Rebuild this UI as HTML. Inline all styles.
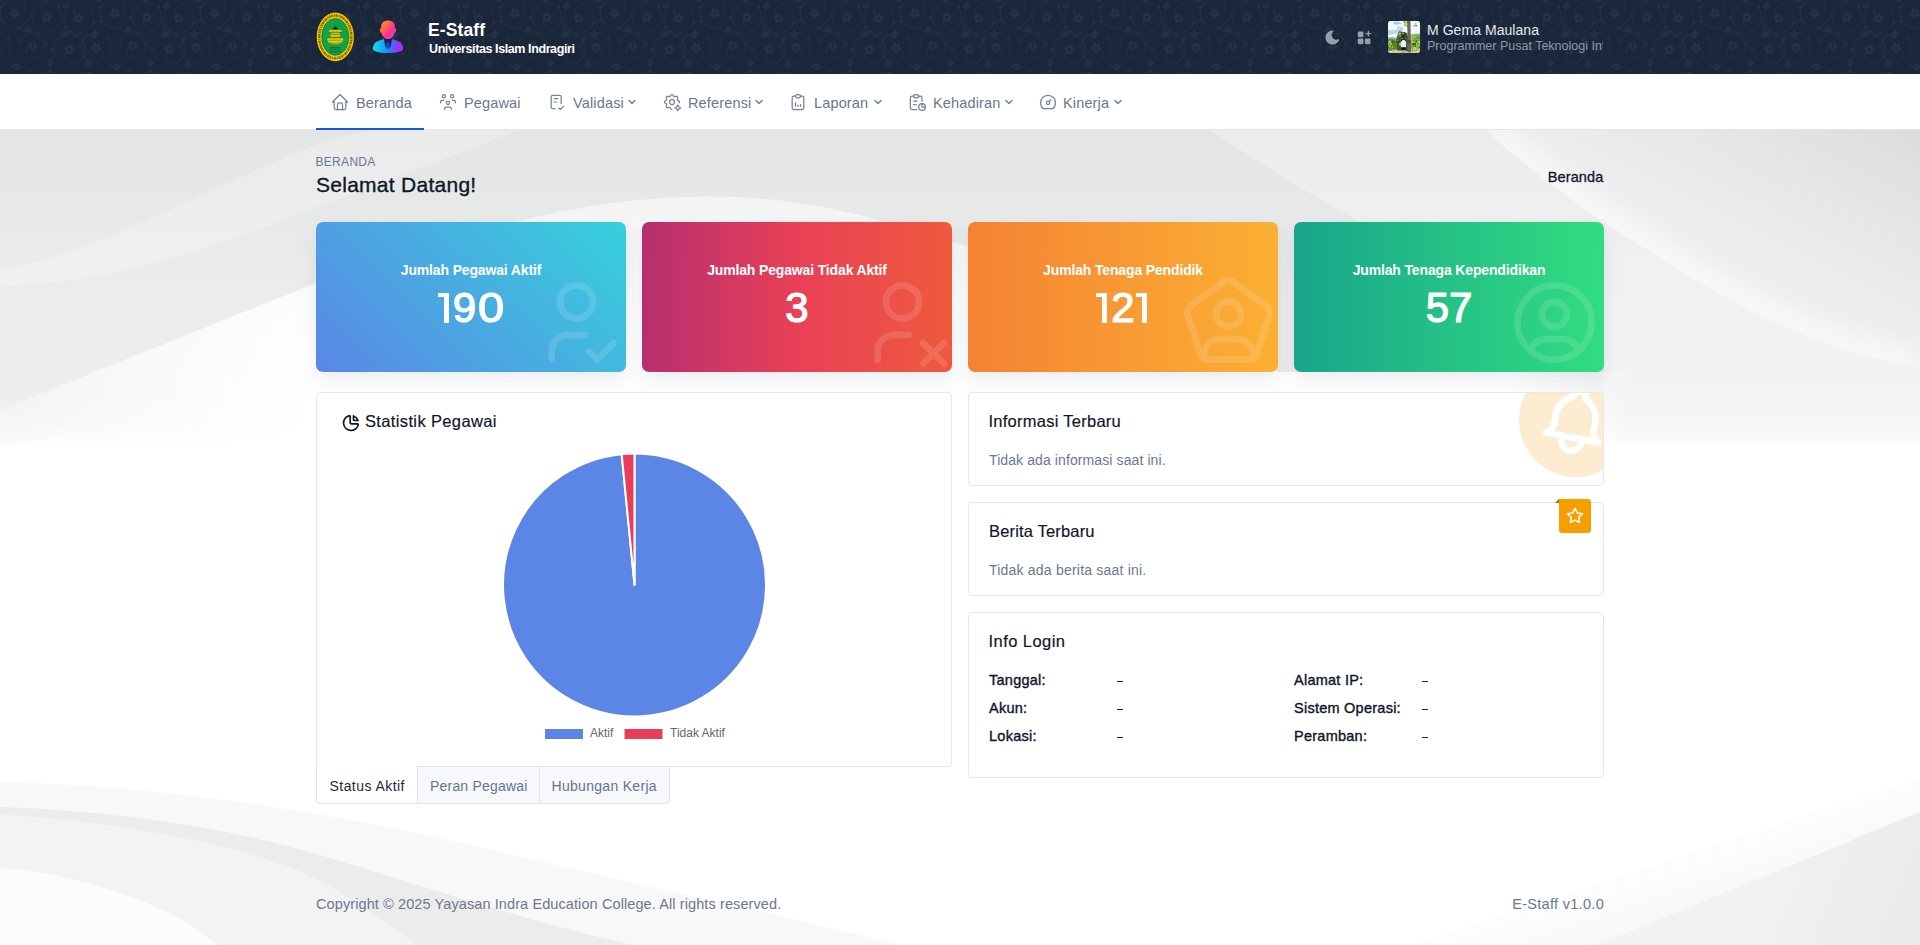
<!DOCTYPE html>
<html lang="id">
<head>
<meta charset="utf-8">
<title>E-Staff</title>
<style>
*{box-sizing:border-box;margin:0;padding:0}
html,body{width:1920px;height:945px;overflow:hidden}
body{font-family:"Liberation Sans",sans-serif;color:#0f172a;background:#fff;position:relative}
svg{display:block}
.abs{position:absolute}
/* background */
#bg{position:absolute;left:0;top:130px;width:1920px;height:815px;z-index:0}
/* header */
#hdr{position:absolute;left:0;top:0;width:1920px;height:74px;background:#1a263a;overflow:hidden;z-index:2}
#hdr .brand1{position:absolute;left:428px;top:20px;font-size:17.5px;font-weight:700;color:#fff;line-height:20px;letter-spacing:.1px}
#hdr .brand2{position:absolute;left:429px;top:41px;font-size:12.5px;font-weight:700;color:#fff;line-height:16px;letter-spacing:-.4px}
#hdr .uname{position:absolute;left:1427px;top:21px;font-size:14px;letter-spacing:.05px;color:#e6e9ee;line-height:18px;white-space:nowrap}
#hdr .urole{position:absolute;left:1427px;top:38px;width:176px;overflow:hidden;font-size:12.5px;color:#8f98a6;line-height:16px;white-space:nowrap;letter-spacing:0}
/* nav */
#nav{position:absolute;left:0;top:74px;width:1920px;height:56px;background:#fff;border-bottom:1px solid #e2e5e9;z-index:2}
.ni{position:absolute;left:0;top:0;height:56px;color:#69788f;font-size:14.5px;line-height:56px;white-space:nowrap}
.ni svg{position:absolute;top:18px;width:20px;height:20px;fill:none;stroke:#73829a;stroke-width:1.5;stroke-linecap:round;stroke-linejoin:round}
.ni .t{position:absolute;top:1px;letter-spacing:.15px}
.ni .c{position:absolute;top:25px;width:8px;height:6px}
.ni .c svg{position:static;width:8px;height:6px;stroke-width:1.5}
#navline{position:absolute;left:316px;top:54px;width:108px;height:2px;background:#0b5ed7;z-index:3}

/* page title */
.pt1{position:absolute;left:315.500px;top:154px;font-size:12px;line-height:16px;color:#6b7890;letter-spacing:.3px;z-index:1}
.pt2{position:absolute;left:316px;top:171px;font-size:21px;line-height:28px;color:#0f172a;letter-spacing:.27px;-webkit-text-stroke:.35px #0f172a;z-index:1}
.bc{position:absolute;right:316.500px;top:167px;font-size:14.5px;line-height:20px;color:#0f172a;letter-spacing:.15px;-webkit-text-stroke:.3px #0f172a;z-index:1}
/* stat cards */
.sc{position:absolute;top:222px;width:310px;height:150px;border-radius:7px;overflow:hidden;box-shadow:0 10px 22px rgba(70,85,120,.085),0 2px 5px rgba(70,85,120,.03);z-index:1;color:#fff;text-align:center}
.sc .l{position:absolute;left:0;right:0;top:38px;font-size:14px;line-height:20px;font-weight:700;letter-spacing:-.15px}
.sc .n{position:absolute;left:0;right:0;top:61px;font-size:42px;line-height:50px;font-weight:400;letter-spacing:0;-webkit-text-stroke:1.2px #fff}
.sc svg{position:absolute;left:210.500px;top:50.500px;width:99px;height:99px;fill:none;stroke:#fff;opacity:.13;stroke-width:1.6;stroke-linecap:round;stroke-linejoin:round}
.g1{position:absolute;top:71px;width:11.3px;height:30px}
.g1:before{content:"";position:absolute;left:0;top:0;width:11.3px;height:4.4px;background:#fff}
.g1:after{content:"";position:absolute;right:0;top:0;width:5.4px;height:30px;background:#fff}
.dg{position:absolute;top:61px;font-size:42px;line-height:50px;font-weight:400;-webkit-text-stroke:1.2px #fff;transform-origin:0 50%}
#c1{left:316px;background:linear-gradient(45deg,#5b86e5 0%,#36d1dc 100%)}
#c2{left:642px;background:linear-gradient(90deg,#b52f70 0%,#e94057 50%,#ef5a3c 100%)}
#c3{left:968px;background:linear-gradient(90deg,#f58233 0%,#fbb034 100%)}
#c4{left:1294px;background:linear-gradient(90deg,#19a58b 0%,#31dd80 100%)}

/* cards row 2 */
.cd{position:absolute;background:#fff;border:1px solid #e4e7ec;border-radius:4px;z-index:1}
.ct{position:absolute;font-size:16.5px;line-height:24px;color:#0f172a;letter-spacing:.17px;white-space:nowrap;-webkit-text-stroke:.18px #0f172a}
.cs{position:absolute;font-size:14px;line-height:20px;color:#6b7890;letter-spacing:.1px;white-space:nowrap}
.lg{position:absolute;font-size:12px;line-height:14px;color:#666;white-space:nowrap}
.tab{position:absolute;top:766px;height:38px;font-size:14px;line-height:38px;white-space:nowrap;z-index:1;border:1px solid #dfe3ea}
.tab span{position:absolute;top:0}
.il{position:absolute;font-size:14.5px;line-height:20px;font-weight:400;color:#0f172a;white-space:nowrap;letter-spacing:.25px;-webkit-text-stroke:.38px #0f172a}
.dash{position:absolute;width:5.5px;height:1.3px;background:#1e293b}
.ft{position:absolute;top:894px;font-size:14.5px;line-height:20px;color:#6b7890;white-space:nowrap;z-index:1}
</style>
</head>
<body>
<svg id="bg" viewBox="0 130 1920 815" preserveAspectRatio="none">
<defs>
<linearGradient id="g0" gradientUnits="userSpaceOnUse" x1="0" y1="130" x2="0" y2="450"><stop offset="0" stop-color="#e3e4e4"/><stop offset=".29" stop-color="#e8e9e9"/><stop offset=".53" stop-color="#ececed"/><stop offset=".84" stop-color="#eeeeef"/><stop offset=".93" stop-color="#f3f3f3"/><stop offset="1" stop-color="#ffffff"/></linearGradient>
<linearGradient id="gw" gradientUnits="userSpaceOnUse" x1="0" y1="0" x2="1640" y2="0"><stop offset="0" stop-color="#fff" stop-opacity=".2"/><stop offset=".193" stop-color="#fff" stop-opacity=".62"/><stop offset=".427" stop-color="#fff" stop-opacity=".53"/><stop offset=".61" stop-color="#fff" stop-opacity=".5"/><stop offset=".915" stop-color="#fff" stop-opacity=".5"/><stop offset="1" stop-color="#fff" stop-opacity="0"/></linearGradient>
<linearGradient id="gr" gradientUnits="userSpaceOnUse" x1="1920" y1="130" x2="1800" y2="367"><stop offset="0" stop-color="#dbdcdc"/><stop offset=".4" stop-color="#e6e7e7"/><stop offset=".6" stop-color="#eaebeb"/><stop offset=".8" stop-color="#eeeeee"/><stop offset="1" stop-color="#f2f2f2"/></linearGradient>
<clipPath id="cpR"><path d="M1485 130C1530 170 1570 200 1610 226C1700 285 1800 350 1920 367V130z"/></clipPath>
<filter id="bl" filterUnits="userSpaceOnUse" x="1300" y="0" width="800" height="600"><feGaussianBlur stdDeviation="13"/></filter>
<linearGradient id="grb" gradientUnits="userSpaceOnUse" x1="0" y1="228" x2="0" y2="446"><stop offset="0" stop-color="#fff" stop-opacity=".35"/><stop offset="1" stop-color="#fff" stop-opacity=".55"/></linearGradient>
<linearGradient id="gbs" gradientUnits="userSpaceOnUse" x1="1640" y1="850" x2="1670" y2="940"><stop offset="0" stop-color="#fff"/><stop offset="1" stop-color="#f6f6f6"/></linearGradient>
<linearGradient id="gbr" gradientUnits="userSpaceOnUse" x1="1760" y1="878" x2="1920" y2="945"><stop offset="0" stop-color="#f2f2f2"/><stop offset="1" stop-color="#e9e9e9"/></linearGradient>
<linearGradient id="gwv" gradientUnits="userSpaceOnUse" x1="0" y1="200" x2="0" y2="380"><stop offset="0" stop-color="#fff" stop-opacity="0"/><stop offset=".33" stop-color="#fff" stop-opacity=".45"/><stop offset=".72" stop-color="#fff" stop-opacity=".88"/><stop offset="1" stop-color="#fff" stop-opacity="1"/></linearGradient>
<linearGradient id="gmh" gradientUnits="userSpaceOnUse" x1="0" y1="0" x2="1640" y2="0"><stop offset="0" stop-color="#fff" stop-opacity=".12"/><stop offset=".22" stop-color="#fff" stop-opacity="1"/><stop offset=".915" stop-color="#fff" stop-opacity="1"/><stop offset="1" stop-color="#fff" stop-opacity="0"/></linearGradient>
<mask id="mh" maskUnits="userSpaceOnUse" x="0" y="130" width="1920" height="400"><rect x="0" y="130" width="1920" height="400" fill="url(#gmh)"/></mask>
</defs>
<rect x="0" y="130" width="1920" height="815" fill="url(#g0)"/>
<!-- left lens band -->
<path d="M0 270C110 250 230 175 330 140C345 135 360 132 370 130H520C440 160 380 185 316 207C220 245 120 283 0 286z" fill="#fff" fill-opacity=".24"/>
<!-- right: between curves lighter -->
<path d="M1210 130C1300 190 1380 235 1460 275C1520 305 1570 335 1604 350V446H1920V367C1800 350 1700 285 1610 226C1570 200 1530 170 1485 130z" fill="#fff" fill-opacity=".3"/>
<!-- right: above curve -->
<g clip-path="url(#cpR)">
<rect x="1400" y="130" width="520" height="240" fill="url(#gr)"/>
<path d="M1485 130C1530 170 1570 200 1610 226C1700 285 1800 350 1920 367" fill="none" stroke="#fff" stroke-width="40" filter="url(#bl)" opacity=".55"/>
</g>
<!-- left white wave / hill -->
<path d="M0 410L316 283C400 250 460 235 515 222C580 206 640 197 705 196.500C770 196 830 206 886 222C940 238 990 253 1029 267C1120 300 1200 340 1278 372H1640V450H0z" fill="url(#gw)"/>
<g mask="url(#mh)"><path d="M0 410L316 283C400 250 460 235 515 222C580 206 640 197 705 196.500C770 196 830 206 886 222C940 238 990 253 1029 267C1120 300 1200 340 1278 372H1640V450H0z" fill="url(#gwv)"/></g>
<!-- bottom-left bands -->
<path d="M0 782C167 786 333 812 500 852C640 885 780 915 900 945H0z" fill="#f8f8f8"/>
<path d="M0 807C100 810 220 825 320 855C420 885 540 925 633 945H417C390 925 360 905 333 888C270 850 130 822 0 815z" fill="#ececec"/>
<path d="M0 815C130 822 270 850 333 888C360 905 390 925 417 945H217C200 930 180 918 167 912C120 890 60 872 0 868z" fill="#f3f3f3"/>
<path d="M0 868C60 872 120 890 167 912C180 918 200 930 217 945H0z" fill="#fcfcfc"/>
<!-- bottom-right -->
<path d="M1920 778L1413 945H1920z" fill="url(#gbs)"/>
<path d="M1920 812L1597 945H1920z" fill="url(#gbr)"/>
</svg>
<div id="hdr">
<svg class="abs" style="left:0;top:0" width="1920" height="74">
<defs>
<pattern id="flr" width="100" height="100" patternUnits="userSpaceOnUse"><g fill="#253144" stroke="none"><circle cx="17.7" cy="14.5" r="1.9"/><circle cx="14.5" cy="16.2" r="1.9"/><circle cx="11.9" cy="13.7" r="1.9"/><circle cx="13.5" cy="10.4" r="1.9"/><circle cx="17.1" cy="10.9" r="1.9"/><path d="M17.8 27.5Q19.4 30.4 22.8 30.0Q21.2 27.0 17.8 27.5z"/><path d="M3.1 21.8Q1.0 19.2 -2.2 20.3Q-0.0 22.9 3.1 21.8z"/><path d="M2.2 6.1Q-1.1 5.3 -2.9 8.1Q0.3 8.9 2.2 6.1z"/><circle cx="17.7" cy="114.5" r="1.9"/><circle cx="14.5" cy="116.2" r="1.9"/><circle cx="11.9" cy="113.7" r="1.9"/><circle cx="13.5" cy="110.4" r="1.9"/><circle cx="17.1" cy="110.9" r="1.9"/><path d="M17.8 127.5Q19.4 130.4 22.8 130.0Q21.2 127.0 17.8 127.5z"/><path d="M3.1 121.8Q1.0 119.2 -2.2 120.3Q-0.0 122.9 3.1 121.8z"/><path d="M2.2 106.1Q-1.1 105.3 -2.9 108.1Q0.3 108.9 2.2 106.1z"/><circle cx="117.7" cy="14.5" r="1.9"/><circle cx="114.5" cy="16.2" r="1.9"/><circle cx="111.9" cy="13.7" r="1.9"/><circle cx="113.5" cy="10.4" r="1.9"/><circle cx="117.1" cy="10.9" r="1.9"/><path d="M117.8 27.5Q119.4 30.4 122.8 30.0Q121.2 27.0 117.8 27.5z"/><path d="M103.1 21.8Q101.0 19.2 97.8 20.3Q100.0 22.9 103.1 21.8z"/><path d="M102.2 6.1Q98.9 5.3 97.1 8.1Q100.3 8.9 102.2 6.1z"/><circle cx="117.7" cy="114.5" r="1.9"/><circle cx="114.5" cy="116.2" r="1.9"/><circle cx="111.9" cy="113.7" r="1.9"/><circle cx="113.5" cy="110.4" r="1.9"/><circle cx="117.1" cy="110.9" r="1.9"/><path d="M117.8 127.5Q119.4 130.4 122.8 130.0Q121.2 127.0 117.8 127.5z"/><path d="M103.1 121.8Q101.0 119.2 97.8 120.3Q100.0 122.9 103.1 121.8z"/><path d="M102.2 106.1Q98.9 105.3 97.1 108.1Q100.3 108.9 102.2 106.1z"/><circle cx="30.2" cy="30.0" r="1.4"/><circle cx="28.6" cy="32.0" r="1.4"/><circle cx="26.2" cy="31.1" r="1.4"/><circle cx="26.3" cy="28.5" r="1.4"/><circle cx="28.8" cy="27.8" r="1.4"/><circle cx="29.9" cy="47.1" r="1.9"/><circle cx="30.5" cy="43.5" r="1.9"/><circle cx="34.1" cy="42.9" r="1.9"/><circle cx="35.7" cy="46.2" r="1.9"/><circle cx="33.2" cy="48.8" r="1.9"/><path d="M22.2 39.2Q18.9 38.3 17.0 41.0Q20.2 41.9 22.2 39.2z"/><path d="M36.0 33.8Q39.3 34.5 41.0 31.6Q37.8 30.9 36.0 33.8z"/><path d="M45.0 45.5Q48.2 44.5 48.4 41.2Q45.2 42.2 45.0 45.5z"/><circle cx="52.6" cy="63.2" r="1.4"/><circle cx="50.9" cy="65.2" r="1.4"/><circle cx="48.5" cy="64.2" r="1.4"/><circle cx="48.7" cy="61.6" r="1.4"/><circle cx="51.2" cy="61.0" r="1.4"/><circle cx="14.6" cy="-22.3" r="1.9"/><circle cx="17.7" cy="-24.3" r="1.9"/><circle cx="20.5" cy="-22.0" r="1.9"/><circle cx="19.2" cy="-18.6" r="1.9"/><circle cx="15.6" cy="-18.7" r="1.9"/><path d="M13.5 -33.4Q11.6 -36.2 8.3 -35.3Q10.3 -32.6 13.5 -33.4z"/><path d="M26.8 -30.1Q29.3 -27.8 32.3 -29.4Q29.8 -31.6 26.8 -30.1z"/><path d="M29.6 -16.7Q32.9 -16.4 34.3 -19.5Q31.0 -19.7 29.6 -16.7z"/><circle cx="14.6" cy="77.7" r="1.9"/><circle cx="17.7" cy="75.7" r="1.9"/><circle cx="20.5" cy="78.0" r="1.9"/><circle cx="19.2" cy="81.4" r="1.9"/><circle cx="15.6" cy="81.3" r="1.9"/><path d="M13.5 66.6Q11.6 63.8 8.3 64.7Q10.3 67.4 13.5 66.6z"/><path d="M26.8 69.9Q29.3 72.2 32.3 70.6Q29.8 68.4 26.8 69.9z"/><path d="M29.6 83.3Q32.9 83.6 34.3 80.5Q31.0 80.3 29.6 83.3z"/><circle cx="114.6" cy="-22.3" r="1.9"/><circle cx="117.7" cy="-24.3" r="1.9"/><circle cx="120.5" cy="-22.0" r="1.9"/><circle cx="119.2" cy="-18.6" r="1.9"/><circle cx="115.6" cy="-18.7" r="1.9"/><path d="M113.5 -33.4Q111.6 -36.2 108.3 -35.3Q110.3 -32.6 113.5 -33.4z"/><path d="M126.8 -30.1Q129.3 -27.8 132.3 -29.4Q129.8 -31.6 126.8 -30.1z"/><path d="M129.6 -16.7Q132.9 -16.4 134.3 -19.5Q131.0 -19.7 129.6 -16.7z"/><circle cx="114.6" cy="77.7" r="1.9"/><circle cx="117.7" cy="75.7" r="1.9"/><circle cx="120.5" cy="78.0" r="1.9"/><circle cx="119.2" cy="81.4" r="1.9"/><circle cx="115.6" cy="81.3" r="1.9"/><path d="M113.5 66.6Q111.6 63.8 108.3 64.7Q110.3 67.4 113.5 66.6z"/><path d="M126.8 69.9Q129.3 72.2 132.3 70.6Q129.8 68.4 126.8 69.9z"/><path d="M129.6 83.3Q132.9 83.6 134.3 80.5Q131.0 80.3 129.6 83.3z"/><circle cx="33.4" cy="-6.9" r="1.4"/><circle cx="31.4" cy="-5.4" r="1.4"/><circle cx="29.3" cy="-6.9" r="1.4"/><circle cx="30.0" cy="-9.3" r="1.4"/><circle cx="32.6" cy="-9.3" r="1.4"/><circle cx="32.8" cy="94.0" r="1.4"/><circle cx="30.3" cy="94.4" r="1.4"/><circle cx="29.2" cy="92.0" r="1.4"/><circle cx="31.1" cy="90.3" r="1.4"/><circle cx="33.3" cy="91.5" r="1.4"/><circle cx="44.7" cy="19.7" r="1.9"/><circle cx="44.0" cy="16.1" r="1.9"/><circle cx="47.2" cy="14.4" r="1.9"/><circle cx="49.9" cy="16.9" r="1.9"/><circle cx="48.3" cy="20.2" r="1.9"/><path d="M32.4 15.3Q29.1 15.8 28.4 19.0Q31.7 18.6 32.4 15.3z"/><path d="M43.5 3.3Q46.7 2.4 46.9 -1.0Q43.7 -0.0 43.5 3.3z"/><path d="M58.8 9.2Q60.8 6.5 59.1 3.7Q57.0 6.3 58.8 9.2z"/><circle cx="44.7" cy="119.7" r="1.9"/><circle cx="44.0" cy="116.1" r="1.9"/><circle cx="47.2" cy="114.4" r="1.9"/><circle cx="49.9" cy="116.9" r="1.9"/><circle cx="48.3" cy="120.2" r="1.9"/><path d="M32.4 115.3Q29.1 115.8 28.4 119.0Q31.7 118.6 32.4 115.3z"/><path d="M43.5 103.3Q46.7 102.4 46.9 99.0Q43.7 100.0 43.5 103.3z"/><path d="M58.8 109.2Q60.8 106.5 59.1 103.7Q57.0 106.3 58.8 109.2z"/><circle cx="66.3" cy="35.2" r="1.4"/><circle cx="64.0" cy="36.3" r="1.4"/><circle cx="62.2" cy="34.3" r="1.4"/><circle cx="63.5" cy="32.1" r="1.4"/><circle cx="66.1" cy="32.7" r="1.4"/><circle cx="67.4" cy="52.0" r="1.9"/><circle cx="66.6" cy="48.5" r="1.9"/><circle cx="69.7" cy="46.6" r="1.9"/><circle cx="72.4" cy="48.9" r="1.9"/><circle cx="71.1" cy="52.3" r="1.9"/><path d="M53.9 47.6Q50.6 48.2 49.9 51.5Q53.2 50.9 53.9 47.6z"/><path d="M66.4 34.3Q69.7 33.4 70.0 30.1Q66.8 30.9 66.4 34.3z"/><path d="M83.1 41.9Q85.4 39.5 83.9 36.5Q81.6 38.9 83.1 41.9z"/><circle cx="89.5" cy="65.5" r="1.4"/><circle cx="87.1" cy="66.4" r="1.4"/><circle cx="85.5" cy="64.4" r="1.4"/><circle cx="86.9" cy="62.2" r="1.4"/><circle cx="89.4" cy="62.9" r="1.4"/><circle cx="49.5" cy="-9.9" r="1.9"/><circle cx="47.2" cy="-12.7" r="1.9"/><circle cx="49.1" cy="-15.8" r="1.9"/><circle cx="52.6" cy="-14.9" r="1.9"/><circle cx="52.9" cy="-11.3" r="1.9"/><path d="M36.9 -6.2Q34.5 -3.9 35.8 -0.8Q38.3 -3.1 36.9 -6.2z"/><path d="M38.0 -21.5Q39.8 -24.3 37.7 -27.0Q35.9 -24.1 38.0 -21.5z"/><path d="M52.0 -27.7Q51.5 -31.0 48.2 -31.6Q48.7 -28.3 52.0 -27.7z"/><circle cx="49.5" cy="90.1" r="1.9"/><circle cx="47.2" cy="87.3" r="1.9"/><circle cx="49.1" cy="84.2" r="1.9"/><circle cx="52.6" cy="85.1" r="1.9"/><circle cx="52.9" cy="88.7" r="1.9"/><path d="M36.9 93.8Q34.5 96.1 35.8 99.2Q38.3 96.9 36.9 93.8z"/><path d="M38.0 78.5Q39.8 75.7 37.7 73.0Q35.9 75.9 38.0 78.5z"/><path d="M52.0 72.3Q51.5 69.0 48.2 68.4Q48.7 71.7 52.0 72.3z"/><circle cx="68.4" cy="6.1" r="1.4"/><circle cx="66.6" cy="8.0" r="1.4"/><circle cx="64.3" cy="6.8" r="1.4"/><circle cx="64.7" cy="4.3" r="1.4"/><circle cx="67.3" cy="3.8" r="1.4"/><circle cx="68.2" cy="106.8" r="1.4"/><circle cx="65.9" cy="108.0" r="1.4"/><circle cx="64.1" cy="106.1" r="1.4"/><circle cx="65.3" cy="103.8" r="1.4"/><circle cx="67.8" cy="104.3" r="1.4"/><circle cx="-24.1" cy="17.0" r="1.9"/><circle cx="-20.8" cy="15.3" r="1.9"/><circle cx="-18.2" cy="17.8" r="1.9"/><circle cx="-19.8" cy="21.1" r="1.9"/><circle cx="-23.4" cy="20.6" r="1.9"/><path d="M-34.8 24.9Q-37.3 27.1 -36.0 30.3Q-33.6 28.0 -34.8 24.9z"/><path d="M-21.1 33.4Q-24.4 33.7 -25.3 36.9Q-22.0 36.6 -21.1 33.4z"/><path d="M-7.5 24.5Q-4.2 25.0 -2.7 22.0Q-6.0 21.5 -7.5 24.5z"/><circle cx="-24.1" cy="117.0" r="1.9"/><circle cx="-20.8" cy="115.3" r="1.9"/><circle cx="-18.2" cy="117.8" r="1.9"/><circle cx="-19.8" cy="121.1" r="1.9"/><circle cx="-23.4" cy="120.6" r="1.9"/><path d="M-34.8 124.9Q-37.3 127.1 -36.0 130.3Q-33.6 128.0 -34.8 124.9z"/><path d="M-21.1 133.4Q-24.4 133.7 -25.3 136.9Q-22.0 136.6 -21.1 133.4z"/><path d="M-7.5 124.5Q-4.2 125.0 -2.7 122.0Q-6.0 121.5 -7.5 124.5z"/><circle cx="75.9" cy="17.0" r="1.9"/><circle cx="79.2" cy="15.3" r="1.9"/><circle cx="81.8" cy="17.8" r="1.9"/><circle cx="80.2" cy="21.1" r="1.9"/><circle cx="76.6" cy="20.6" r="1.9"/><path d="M65.2 24.9Q62.7 27.1 64.0 30.3Q66.4 28.0 65.2 24.9z"/><path d="M78.9 33.4Q75.6 33.7 74.7 36.9Q78.0 36.6 78.9 33.4z"/><path d="M92.5 24.5Q95.8 25.0 97.3 22.0Q94.0 21.5 92.5 24.5z"/><circle cx="75.9" cy="117.0" r="1.9"/><circle cx="79.2" cy="115.3" r="1.9"/><circle cx="81.8" cy="117.8" r="1.9"/><circle cx="80.2" cy="121.1" r="1.9"/><circle cx="76.6" cy="120.6" r="1.9"/><path d="M65.2 124.9Q62.7 127.1 64.0 130.3Q66.4 128.0 65.2 124.9z"/><path d="M78.9 133.4Q75.6 133.7 74.7 136.9Q78.0 136.6 78.9 133.4z"/><path d="M92.5 124.5Q95.8 125.0 97.3 122.0Q94.0 121.5 92.5 124.5z"/><circle cx="-4.3" cy="36.6" r="1.4"/><circle cx="-6.8" cy="36.9" r="1.4"/><circle cx="-8.0" cy="34.6" r="1.4"/><circle cx="-6.1" cy="32.8" r="1.4"/><circle cx="-3.8" cy="34.0" r="1.4"/><circle cx="96.4" cy="35.1" r="1.4"/><circle cx="94.7" cy="37.1" r="1.4"/><circle cx="92.3" cy="36.2" r="1.4"/><circle cx="92.5" cy="33.6" r="1.4"/><circle cx="95.0" cy="32.9" r="1.4"/><circle cx="-1.2" cy="48.9" r="1.9"/><circle cx="-4.4" cy="50.8" r="1.9"/><circle cx="-7.1" cy="48.4" r="1.9"/><circle cx="-5.6" cy="45.0" r="1.9"/><circle cx="-2.0" cy="45.4" r="1.9"/><path d="M8.5 39.8Q10.7 37.3 9.1 34.4Q6.8 36.9 8.5 39.8z"/><path d="M-7.0 33.2Q-3.8 32.3 -3.5 29.0Q-6.7 29.9 -7.0 33.2z"/><path d="M-18.7 45.4Q-22.0 45.8 -22.7 49.1Q-19.4 48.7 -18.7 45.4z"/><circle cx="98.8" cy="48.9" r="1.9"/><circle cx="95.6" cy="50.8" r="1.9"/><circle cx="92.9" cy="48.4" r="1.9"/><circle cx="94.4" cy="45.0" r="1.9"/><circle cx="98.0" cy="45.4" r="1.9"/><path d="M108.5 39.8Q110.7 37.3 109.1 34.4Q106.8 36.9 108.5 39.8z"/><path d="M93.0 33.2Q96.2 32.3 96.5 29.0Q93.3 29.9 93.0 33.2z"/><path d="M81.3 45.4Q78.0 45.8 77.3 49.1Q80.6 48.7 81.3 45.4z"/><circle cx="18.7" cy="67.6" r="1.4"/><circle cx="16.6" cy="69.1" r="1.4"/><circle cx="14.5" cy="67.7" r="1.4"/><circle cx="15.2" cy="65.2" r="1.4"/><circle cx="17.8" cy="65.1" r="1.4"/><circle cx="-20.8" cy="-14.2" r="1.9"/><circle cx="-19.4" cy="-17.6" r="1.9"/><circle cx="-15.8" cy="-17.3" r="1.9"/><circle cx="-14.9" cy="-13.8" r="1.9"/><circle cx="-18.0" cy="-11.9" r="1.9"/><path d="M-26.9 -23.0Q-29.9 -24.4 -32.3 -22.0Q-29.3 -20.6 -26.9 -23.0z"/><path d="M-13.6 -26.3Q-10.4 -25.4 -8.4 -28.0Q-11.6 -29.0 -13.6 -26.3z"/><path d="M-5.7 -15.2Q-2.5 -16.2 -2.4 -19.5Q-5.6 -18.5 -5.7 -15.2z"/><circle cx="-20.8" cy="85.8" r="1.9"/><circle cx="-19.4" cy="82.4" r="1.9"/><circle cx="-15.8" cy="82.7" r="1.9"/><circle cx="-14.9" cy="86.2" r="1.9"/><circle cx="-18.0" cy="88.1" r="1.9"/><path d="M-26.9 77.0Q-29.9 75.6 -32.3 78.0Q-29.3 79.4 -26.9 77.0z"/><path d="M-13.6 73.7Q-10.4 74.6 -8.4 72.0Q-11.6 71.0 -13.6 73.7z"/><path d="M-5.7 84.8Q-2.5 83.8 -2.4 80.5Q-5.6 81.5 -5.7 84.8z"/><circle cx="79.2" cy="-14.2" r="1.9"/><circle cx="80.6" cy="-17.6" r="1.9"/><circle cx="84.2" cy="-17.3" r="1.9"/><circle cx="85.1" cy="-13.8" r="1.9"/><circle cx="82.0" cy="-11.9" r="1.9"/><path d="M73.1 -23.0Q70.1 -24.4 67.7 -22.0Q70.7 -20.6 73.1 -23.0z"/><path d="M86.4 -26.3Q89.6 -25.4 91.6 -28.0Q88.4 -29.0 86.4 -26.3z"/><path d="M94.3 -15.2Q97.5 -16.2 97.6 -19.5Q94.4 -18.5 94.3 -15.2z"/><circle cx="79.2" cy="85.8" r="1.9"/><circle cx="80.6" cy="82.4" r="1.9"/><circle cx="84.2" cy="82.7" r="1.9"/><circle cx="85.1" cy="86.2" r="1.9"/><circle cx="82.0" cy="88.1" r="1.9"/><path d="M73.1 77.0Q70.1 75.6 67.7 78.0Q70.7 79.4 73.1 77.0z"/><path d="M86.4 73.7Q89.6 74.6 91.6 72.0Q88.4 71.0 86.4 73.7z"/><path d="M94.3 84.8Q97.5 83.8 97.6 80.5Q94.4 81.5 94.3 84.8z"/><circle cx="0.9" cy="0.1" r="1.4"/><circle cx="-1.1" cy="1.6" r="1.4"/><circle cx="-3.3" cy="0.2" r="1.4"/><circle cx="-2.5" cy="-2.3" r="1.4"/><circle cx="0.1" cy="-2.4" r="1.4"/><circle cx="0.4" cy="100.9" r="1.4"/><circle cx="-2.1" cy="101.4" r="1.4"/><circle cx="-3.4" cy="99.2" r="1.4"/><circle cx="-1.6" cy="97.3" r="1.4"/><circle cx="0.7" cy="98.3" r="1.4"/><circle cx="100.8" cy="0.3" r="1.4"/><circle cx="98.6" cy="1.6" r="1.4"/><circle cx="96.7" cy="-0.1" r="1.4"/><circle cx="97.7" cy="-2.4" r="1.4"/><circle cx="100.2" cy="-2.2" r="1.4"/><circle cx="100.1" cy="101.2" r="1.4"/><circle cx="97.6" cy="101.2" r="1.4"/><circle cx="96.7" cy="98.8" r="1.4"/><circle cx="98.8" cy="97.2" r="1.4"/><circle cx="100.9" cy="98.7" r="1.4"/></g><g fill="none" stroke="#232f42" stroke-width="1"><path d="M28.0 19.6A14.6 14.6 0 1 1 19.3 -0.7A8.0 8.0 0 0 1 20.3 14.2"/><path d="M28.0 119.6A14.6 14.6 0 1 1 19.3 99.3A8.0 8.0 0 0 1 20.3 114.2"/><path d="M128.0 19.6A14.6 14.6 0 1 1 119.3 -0.7A8.0 8.0 0 0 1 120.3 14.2"/><path d="M128.0 119.6A14.6 14.6 0 1 1 119.3 99.3A8.0 8.0 0 0 1 120.3 114.2"/><path d="M21.7 51.3A12.4 12.4 0 1 1 33.2 58.1A6.8 6.8 0 0 1 28.1 46.4"/><path d="M5.4 -25.7A12.9 12.9 0 1 1 15.8 -8.4A7.1 7.1 0 0 1 12.7 -21.2"/><path d="M5.4 74.3A12.9 12.9 0 1 1 15.8 91.6A7.1 7.1 0 0 1 12.7 78.8"/><path d="M105.4 -25.7A12.9 12.9 0 1 1 115.8 -8.4A7.1 7.1 0 0 1 112.7 -21.2"/><path d="M105.4 74.3A12.9 12.9 0 1 1 115.8 91.6A7.1 7.1 0 0 1 112.7 78.8"/><path d="M36.7 27.9A14.6 14.6 0 1 1 56.7 28.1A8.0 8.0 0 0 1 43.3 21.6"/><path d="M36.7 127.9A14.6 14.6 0 1 1 56.7 128.1A8.0 8.0 0 0 1 43.3 121.6"/><path d="M59.3 61.6A15.7 15.7 0 1 1 78.1 62.7A8.6 8.6 0 0 1 65.0 53.5"/><path d="M46.7 1.6A14.9 14.9 0 1 1 65.0 -15.2A8.2 8.2 0 0 1 51.8 -7.5"/><path d="M46.7 101.6A14.9 14.9 0 1 1 65.0 84.8A8.2 8.2 0 0 1 51.8 92.5"/><path d="M-34.8 11.7A15.1 15.1 0 1 0 -12.4 6.2A8.3 8.3 0 0 0 -25.4 14.5"/><path d="M-34.8 111.7A15.1 15.1 0 1 0 -12.4 106.2A8.3 8.3 0 0 0 -25.4 114.5"/><path d="M65.2 11.7A15.1 15.1 0 1 0 87.6 6.2A8.3 8.3 0 0 0 74.6 14.5"/><path d="M65.2 111.7A15.1 15.1 0 1 0 87.6 106.2A8.3 8.3 0 0 0 74.6 114.5"/><path d="M9.5 53.6A14.8 14.8 0 1 0 -8.1 61.9A8.1 8.1 0 0 0 1.0 49.8"/><path d="M109.5 53.6A14.8 14.8 0 1 0 91.9 61.9A8.1 8.1 0 0 0 101.0 49.8"/><path d="M-29.6 -12.1A12.1 12.1 0 1 1 -16.1 -3.0A6.6 6.6 0 0 1 -22.2 -13.8"/><path d="M-29.6 87.9A12.1 12.1 0 1 1 -16.1 97.0A6.6 6.6 0 0 1 -22.2 86.2"/><path d="M70.4 -12.1A12.1 12.1 0 1 1 83.9 -3.0A6.6 6.6 0 0 1 77.8 -13.8"/><path d="M70.4 87.9A12.1 12.1 0 1 1 83.9 97.0A6.6 6.6 0 0 1 77.8 86.2"/></g></pattern>
</defs>
<rect width="1920" height="74" fill="url(#flr)"/>
</svg>
<!-- seal logo -->
<svg class="abs" style="left:316px;top:12px" width="38" height="50" viewBox="0 0 38 50">
<ellipse cx="19.300" cy="24.900" rx="18.600" ry="24.300" fill="#f4c700"/>
<ellipse cx="19.300" cy="24.900" rx="16.100" ry="21.400" fill="none" stroke="#5c4a00" stroke-width="2.300" stroke-dasharray="2 .800 1.200 .600 2.400 .900 1 .700 1.800 .600" opacity=".78"/>
<ellipse cx="19.300" cy="24.900" rx="13.600" ry="18.400" fill="#0da44d" stroke="#0a6a30" stroke-width=".600"/>
<path d="M10.500 17.500c4.500-5 13-5 17.500 0" fill="none" stroke="#0a7a38" stroke-width=".700" stroke-dasharray=".800 .600"/>
<path d="M19.300 14.500l3.400 3h-6.800z" fill="#0c1f10"/>
<path d="M13.400 17.700h11.800l1.200 2.300h-14.200zM14.600 20.400h9.400v1.800h-9.400zM13.600 22.600h11.400l-1 2.400h-9.400z" fill="#e8cf10" stroke="#5a5a00" stroke-width=".350"/>
<path d="M11.800 26h15l.9 1.600c-1.200 3.400-4.200 5-8.400 5s-7.200-1.600-8.400-5z" fill="#e8cf10" stroke="#5a5a00" stroke-width=".350"/>
<path d="M12.400 28.200h13.800M14.500 30.400c2.800 1.200 6.800 1.200 9.600 0" fill="none" stroke="#4a5a00" stroke-width=".500"/>
<rect x="14.600" y="35.600" width="9.600" height="4.400" fill="none" stroke="#0a5a2a" stroke-width=".700"/>
<path d="M16 37h6.800M16.600 38.600v-1M19.400 38.600v-1M22.200 38.600v-1" stroke="#0a5a2a" stroke-width=".600"/>
</svg>
<!-- person logo -->
<svg class="abs" style="left:372px;top:20px" width="32" height="34" viewBox="0 0 32 34">
<defs>
<linearGradient id="pg1" x1="0" y1="0" x2="1" y2=".9"><stop offset="0" stop-color="#ff9d1e"/><stop offset=".35" stop-color="#ff6a4a"/><stop offset=".62" stop-color="#ff2f8e"/><stop offset="1" stop-color="#c050d8"/></linearGradient>
<linearGradient id="pg2" x1="0" y1="0" x2="1" y2="0"><stop offset="0" stop-color="#08e6e6"/><stop offset=".5" stop-color="#1e88ff"/><stop offset=".8" stop-color="#8a3cf5"/><stop offset="1" stop-color="#b02cf0"/></linearGradient>
</defs>
<path d="M16 .600c4.400 0 6.900 2.600 6.900 6.400v1.300c.8 0 1.300.600 1.200 1.600l-.2 1.600c-.1.900-.7 1.400-1.400 1.300-.5 2.600-1.900 4.600-3.700 5.600-1.700.900-3.900.900-5.600 0-1.800-1-3.200-3-3.700-5.600-.7.100-1.300-.4-1.400-1.300l-.2-1.600c-.1-1 .4-1.600 1.200-1.600v-1.300c0-3.800 2.500-6.400 6.900-6.400z" fill="url(#pg1)"/>
<path d="M11.600 19l-5.600 2.100c-3.300 1.300-5 3.900-5.100 7.300 0 1.600 1.200 2.500 3.200 3.100 3.200 1 7.400 1.600 11.900 1.600s8.700-.6 11.900-1.600c2-.6 3.200-1.500 3.200-3.100-.1-3.400-1.800-6-5.100-7.300l-5.600-2.100z" fill="url(#pg2)"/>
<path d="M11.800 19h8.400l-1.600 7.600-2.600 2.400-2.600-2.400z" fill="#14205a"/>
<path d="M14.900 22.400h2.200l.5 4-1.600 2.200-1.600-2.200z" fill="#0a55d8"/>
</svg>
<div class="brand1">E-Staff</div>
<div class="brand2">Universitas Islam Indragiri</div>
<!-- moon -->
<svg class="abs" style="left:1323.500px;top:28.500px" width="17" height="17" viewBox="0 0 24 24"><path d="M12 1.992a10 10 0 1 0 9.236 13.838c.341-.82-.476-1.644-1.298-1.310a6.500 6.500 0 0 1-6.864-10.787l.077-.080c.551-.630.113-1.653-.758-1.653h-.266l-.068-.006-.060-.002z" fill="#979eab"/></svg>
<!-- apps -->
<svg class="abs" style="left:1355.500px;top:28.500px" width="17" height="17" viewBox="0 0 24 24" fill="#979eab"><rect x="2.500" y="3.500" width="8" height="8" rx="1.600"/><rect x="2.500" y="13.500" width="8" height="8" rx="1.600"/><rect x="12.500" y="13.500" width="8" height="8" rx="1.600"/><path d="M17.500 2.500a1 1 0 0 1 1 1v2h2a1 1 0 0 1 0 2h-2v2a1 1 0 0 1-2 0v-2h-2a1 1 0 0 1 0-2h2v-2a1 1 0 0 1 1-1z"/></svg>
<!-- avatar -->
<svg class="abs" style="left:1388px;top:21px;border-radius:3px" width="32" height="32" viewBox="0 0 32 32">
<defs><filter id="avb" x="-5%" y="-5%" width="110%" height="110%"><feGaussianBlur stdDeviation=".45"/></filter></defs>
<rect width="32" height="32" fill="#eef3f9"/>
<g filter="url(#avb)">
<rect x="-2" y="-2" width="36" height="20" fill="#f4f7fb"/>
<path d="M-1 9c3-1 5 1 8 0s5-3 8-2v4c-4 1-8 2-16 3z" fill="#bcd6ee"/>
<path d="M6 1c3-1 6 0 8 2-3 0-6 1-9 0z" fill="#a9cbea"/>
<path d="M10 5c2 0 4 1 5 3-2 0-4 0-6-1z" fill="#b9d5ef"/>
<path d="M-1 17c3-1.500 6-1.500 9 0v3h-9z" fill="#8fa9c4"/>
<path d="M22 13.500c3-1.200 7-1.500 11-.5v4h-11z" fill="#9bb6d0"/>
<path d="M8 20c0-5 3-9 7-9s5 2 5 6v15h-12z" fill="#3b5a29"/>
<path d="M-1 19c3-2 7-1 10 2v12h-10z" fill="#5b8234"/>
<path d="M22 16c3-2 7-3 11-2v19h-11z" fill="#7faa3a"/>
<circle cx="11.4" cy="19.2" r="1.0" fill="#4a6a2e"/><circle cx="15.3" cy="12.0" r="0.7" fill="#4a6a2e"/><circle cx="11.6" cy="14.5" r="1.6" fill="#4a6a2e"/><circle cx="14.4" cy="19.2" r="1.1" fill="#3a5a28"/><circle cx="11.3" cy="13.3" r="1.5" fill="#4a6a2e"/><circle cx="16.4" cy="21.1" r="0.8" fill="#2f4a22"/><circle cx="12.0" cy="11.5" r="1.5" fill="#4a6a2e"/><circle cx="14.9" cy="24.8" r="1.0" fill="#4a6a2e"/><circle cx="12.9" cy="23.0" r="1.1" fill="#3a5a28"/><circle cx="17.8" cy="12.5" r="0.8" fill="#3a5a28"/><circle cx="11.6" cy="21.1" r="1.4" fill="#274019"/><circle cx="13.2" cy="23.5" r="1.2" fill="#4a6a2e"/><circle cx="14.8" cy="24.6" r="1.3" fill="#2f4a22"/><circle cx="17.6" cy="25.9" r="1.3" fill="#3a5a28"/><circle cx="16.0" cy="15.9" r="1.2" fill="#2f4a22"/><circle cx="16.1" cy="14.2" r="1.4" fill="#274019"/>
<circle cx="11.8" cy="12.8" r="1.0" fill="#c9dd72"/><circle cx="9.9" cy="21.6" r="0.7" fill="#b7d45a"/><circle cx="9.2" cy="17.1" r="0.7" fill="#9fc24a"/><circle cx="9.4" cy="19.4" r="0.5" fill="#a5c850"/><circle cx="12.3" cy="22.6" r="1.1" fill="#a5c850"/><circle cx="11.4" cy="12.4" r="0.5" fill="#9fc24a"/><circle cx="15.0" cy="12.4" r="0.6" fill="#c9dd72"/><circle cx="11.9" cy="15.2" r="0.9" fill="#86ad3c"/><circle cx="12.1" cy="23.5" r="1.0" fill="#c9dd72"/><circle cx="12.8" cy="22.4" r="0.7" fill="#a5c850"/>
<circle cx="6.8" cy="20.0" r="1.6" fill="#4a6a2e"/><circle cx="2.7" cy="25.3" r="1.3" fill="#a5c850"/><circle cx="4.4" cy="21.6" r="1.0" fill="#2f4a22"/><circle cx="0.1" cy="23.2" r="1.2" fill="#9fc24a"/><circle cx="3.8" cy="24.9" r="0.8" fill="#2f4a22"/><circle cx="4.7" cy="25.8" r="1.0" fill="#a5c850"/><circle cx="7.4" cy="19.2" r="0.8" fill="#9fc24a"/><circle cx="9.6" cy="21.5" r="1.1" fill="#2f4a22"/><circle cx="1.8" cy="20.9" r="1.4" fill="#a5c850"/><circle cx="3.0" cy="22.8" r="1.4" fill="#9fc24a"/><circle cx="9.7" cy="25.8" r="0.8" fill="#4a6a2e"/><circle cx="2.2" cy="27.0" r="0.9" fill="#86ad3c"/>
<circle cx="28.8" cy="24.7" r="0.9" fill="#a5c850"/><circle cx="25.2" cy="20.0" r="1.6" fill="#c9dd72"/><circle cx="30.1" cy="29.4" r="0.9" fill="#b7d45a"/><circle cx="30.8" cy="21.8" r="1.0" fill="#9fc24a"/><circle cx="22.3" cy="29.4" r="1.1" fill="#a5c850"/><circle cx="23.8" cy="19.2" r="1.6" fill="#9fc24a"/><circle cx="30.1" cy="20.2" r="0.9" fill="#86ad3c"/><circle cx="27.2" cy="27.7" r="1.3" fill="#c9dd72"/><circle cx="24.9" cy="23.5" r="0.8" fill="#c9dd72"/><circle cx="23.6" cy="15.1" r="1.7" fill="#a5c850"/><circle cx="31.9" cy="21.5" r="1.8" fill="#b7d45a"/><circle cx="22.3" cy="21.9" r="1.6" fill="#a5c850"/><circle cx="31.6" cy="23.2" r="1.7" fill="#9fc24a"/><circle cx="30.6" cy="29.6" r="0.9" fill="#b7d45a"/><circle cx="22.5" cy="28.6" r="1.5" fill="#b7d45a"/><circle cx="31.0" cy="28.5" r="1.4" fill="#9fc24a"/><circle cx="26.8" cy="16.8" r="1.3" fill="#b7d45a"/><circle cx="28.6" cy="22.9" r="1.2" fill="#a5c850"/><circle cx="23.1" cy="16.9" r="1.8" fill="#a5c850"/><circle cx="26.8" cy="26.7" r="1.2" fill="#b7d45a"/><circle cx="23.2" cy="28.3" r="0.9" fill="#b7d45a"/><circle cx="29.9" cy="28.8" r="1.6" fill="#9fc24a"/>
<circle cx="27.4" cy="22.9" r="1.0" fill="#274019"/><circle cx="25.2" cy="23.4" r="1.1" fill="#2f4a22"/><circle cx="27.3" cy="25.3" r="0.7" fill="#2f4a22"/><circle cx="30.0" cy="16.6" r="0.7" fill="#4a6a2e"/><circle cx="31.8" cy="26.3" r="0.8" fill="#4a6a2e"/><circle cx="25.8" cy="19.8" r="0.9" fill="#4a6a2e"/><circle cx="28.3" cy="20.3" r="0.8" fill="#274019"/><circle cx="26.9" cy="17.5" r="0.7" fill="#4a6a2e"/><circle cx="30.2" cy="22.8" r="0.7" fill="#4a6a2e"/>
<circle cx="17.0" cy="3.9" r="0.8" fill="#9fb83c"/><circle cx="17.1" cy="2.2" r="0.8" fill="#b7c94a"/><circle cx="17.8" cy="1.6" r="1.2" fill="#b7c94a"/><circle cx="16.3" cy="1.2" r="0.9" fill="#7f9a30"/><circle cx="16.9" cy="4.0" r="0.7" fill="#9fb83c"/><circle cx="18.4" cy="4.7" r="0.8" fill="#7f9a30"/>
<circle cx="27.7" cy="2.3" r="0.6" fill="#8fa83c"/><circle cx="28.6" cy="4.7" r="0.8" fill="#6f8a30"/><circle cx="27.8" cy="4.3" r="0.8" fill="#6f8a30"/><circle cx="26.2" cy="5.1" r="0.8" fill="#a7b94a"/><circle cx="23.9" cy="4.9" r="0.4" fill="#8fa83c"/><circle cx="26.4" cy="4.3" r="0.6" fill="#8fa83c"/>
<path d="M-1 29.800c6-1 12-.6 18 0s10 0 16-.6v4h-34z" fill="#c9c79a"/>
<circle cx="10.9" cy="31.4" r="0.6" fill="#d9c7b0"/><circle cx="21.6" cy="31.3" r="1.2" fill="#9fc24a"/><circle cx="25.6" cy="28.1" r="1.1" fill="#b7d45a"/><circle cx="3.4" cy="31.0" r="1.2" fill="#d9c7b0"/><circle cx="17.6" cy="31.5" r="0.7" fill="#d9c7b0"/><circle cx="7.7" cy="28.7" r="0.7" fill="#e0d0c0"/><circle cx="8.1" cy="30.4" r="1.2" fill="#e0d0c0"/><circle cx="30.9" cy="29.5" r="0.7" fill="#e0d0c0"/><circle cx="27.0" cy="31.9" r="0.8" fill="#e0d0c0"/><circle cx="5.0" cy="29.6" r="1.1" fill="#b7d45a"/><circle cx="3.1" cy="31.0" r="1.1" fill="#e0d0c0"/><circle cx="18.8" cy="31.4" r="0.7" fill="#b7d45a"/>
<path d="M19 -1h3.400l.4 18 .3 14h-3.600l.2-14z" fill="#6e665c"/>
<path d="M19.300 19h3.400v3.500h-3.400z" fill="#4d4a44"/>
<ellipse cx="15.400" cy="16.300" rx="1.300" ry="1.300" fill="#2a2520"/>
<path d="M12.900 18.600c0-.9.900-1.300 2.600-1.300s2.600.4 2.600 1.300v7.800h-5.200z" fill="#e9edf6"/>
<path d="M12.900 18.600c0-.9.900-1.300 2.600-1.300s2.600.4 2.600 1.300v2.200c-.9-.5-1.300-.9-1.500-1.700h-2.200c-.2.800-.6 1.200-1.500 1.700z" fill="#1f2f5a"/>
<path d="M13.200 26.300h4.600v2.800h-4.600z" fill="#15171c"/>
<path d="M13.700 29.100h1.300v3.400h-1.300zM16 29.100h1.300v3.400h-1.300z" fill="#c79a7a"/>
</g>
</svg>
<div class="uname">M Gema Maulana</div>
<div class="urole">Programmer Pusat Teknologi Informasi</div>
</div>
<div id="nav">
<div class="ni"><svg style="left:330px" viewBox="0 0 24 24"><path d="M5 12h-2l9-9 9 9h-2"/><path d="M5 12v7a2 2 0 0 0 2 2h10a2 2 0 0 0 2-2v-7"/><path d="M9 21v-6a2 2 0 0 1 2-2h2a2 2 0 0 1 2 2v6"/></svg><span class="t" style="left:356px">Beranda</span></div>
<div class="ni"><svg style="left:438px" viewBox="0 0 24 24"><path d="M10 13a2 2 0 1 0 4 0a2 2 0 0 0-4 0"/><path d="M8 21v-1a2 2 0 0 1 2-2h4a2 2 0 0 1 2 2v1"/><path d="M15 5a2 2 0 1 0 4 0a2 2 0 0 0-4 0"/><path d="M17 10h2a2 2 0 0 1 2 2v1"/><path d="M5 5a2 2 0 1 0 4 0a2 2 0 0 0-4 0"/><path d="M3 13v-1a2 2 0 0 1 2-2h2"/></svg><span class="t" style="left:464px">Pegawai</span></div>
<div class="ni"><svg style="left:547px" viewBox="0 0 24 24"><path d="M9.615 20h-2.615a2 2 0 0 1-2-2v-12a2 2 0 0 1 2-2h8a2 2 0 0 1 2 2v8"/><path d="M14 19l2 2l4-4"/><path d="M9 8h4"/><path d="M9 12h2"/></svg><span class="t" style="left:573px">Validasi</span><span class="c" style="left:628px"><svg viewBox="0 0 8 6"><path d="M1 1.500l3 3l3-3"/></svg></span></div>
<div class="ni"><svg style="left:662px" viewBox="0 0 24 24"><path d="M11.992 21c-.728-.003-1.455-.442-1.667-1.317a1.724 1.724 0 0 0-2.573-1.066c-1.543.94-3.310-.826-2.370-2.370a1.724 1.724 0 0 0-1.065-2.572c-1.756-.426-1.756-2.924 0-3.350a1.724 1.724 0 0 0 1.066-2.573c-.940-1.543.826-3.310 2.370-2.370c1 .608 2.296.070 2.572-1.065c.426-1.756 2.924-1.756 3.350 0a1.724 1.724 0 0 0 2.573 1.066c1.543-.940 3.310.826 2.370 2.370a1.724 1.724 0 0 0 1.065 2.572c1.312.318 1.644 1.794.995 2.697"/><path d="M9 12a3 3 0 1 0 6 0a3 3 0 0 0-6 0"/><path d="M19 22.500a4.750 4.750 0 0 1 3.500-3.500a4.750 4.750 0 0 1-3.500-3.500a4.750 4.750 0 0 1-3.500 3.500a4.750 4.750 0 0 1 3.500 3.500"/></svg><span class="t" style="left:688px">Referensi</span><span class="c" style="left:755px"><svg viewBox="0 0 8 6"><path d="M1 1.500l3 3l3-3"/></svg></span></div>
<div class="ni"><svg style="left:788px" viewBox="0 0 24 24"><path d="M9 5h-2a2 2 0 0 0-2 2v12a2 2 0 0 0 2 2h10a2 2 0 0 0 2-2v-12a2 2 0 0 0-2-2h-2"/><path d="M9 5a2 2 0 0 1 2-2h2a2 2 0 0 1 2 2a2 2 0 0 1-2 2h-2a2 2 0 0 1-2-2z"/><path d="M9 17v-4"/><path d="M12 17v-1"/><path d="M15 17v-2"/></svg><span class="t" style="left:814px">Laporan</span><span class="c" style="left:874px"><svg viewBox="0 0 8 6"><path d="M1 1.500l3 3l3-3"/></svg></span></div>
<div class="ni"><svg style="left:907px" viewBox="0 0 24 24"><path d="M8 5h-2a2 2 0 0 0-2 2v12a2 2 0 0 0 2 2h5.697"/><path d="M18 14v4h4"/><path d="M18 11v-4a2 2 0 0 0-2-2h-2"/><path d="M8 5a2 2 0 0 1 2-2h2a2 2 0 0 1 2 2a2 2 0 0 1-2 2h-2a2 2 0 0 1-2-2z"/><path d="M14 18a4 4 0 1 0 8 0a4 4 0 1 0-8 0"/><path d="M8 11h4"/><path d="M8 15h3"/></svg><span class="t" style="left:933px">Kehadiran</span><span class="c" style="left:1005px"><svg viewBox="0 0 8 6"><path d="M1 1.500l3 3l3-3"/></svg></span></div>
<div class="ni"><svg style="left:1038px" viewBox="0 0 24 24"><path d="M10 13a2 2 0 1 0 4 0a2 2 0 1 0-4 0"/><path d="M13.450 11.550l2.050-2.050"/><path d="M6.400 20a9 9 0 1 1 11.200 0z"/></svg><span class="t" style="left:1063px">Kinerja</span><span class="c" style="left:1114px"><svg viewBox="0 0 8 6"><path d="M1 1.500l3 3l3-3"/></svg></span></div>
<div id="navline"></div>
</div>
<div id="main">
<div class="pt1">BERANDA</div>
<div class="pt2">Selamat Datang!</div>
<div class="bc">Beranda</div>
<div class="sc" id="c1"><svg viewBox="0 0 24 24"><path d="M8 7a4 4 0 1 0 8 0a4 4 0 0 0-8 0"/><path d="M6 21v-2a4 4 0 0 1 4-4h4"/><path d="M15 19l2 2l4-4"/></svg><div class="l">Jumlah Pegawai Aktif</div><i class="g1" style="left:121.800px"></i><span class="dg" style="left:136.800px">9</span><span class="dg" style="left:161.700px;transform:scaleX(1.12)">0</span></div>
<div class="sc" id="c2"><svg viewBox="0 0 24 24"><path d="M8 7a4 4 0 1 0 8 0a4 4 0 0 0-8 0"/><path d="M6 21v-2a4 4 0 0 1 4-4h3.500"/><path d="M22 22l-5-5"/><path d="M17 22l5-5"/></svg><div class="l">Jumlah Pegawai Tidak Aktif</div><div class="n">3</div></div>
<div class="sc" id="c3"><svg viewBox="0 0 24 24"><path d="M13.163 2.168l8.021 5.828c.694.504.984 1.397.719 2.212l-3.064 9.430a1.978 1.978 0 0 1-1.881 1.367h-9.916a1.978 1.978 0 0 1-1.881-1.367l-3.064-9.430a1.978 1.978 0 0 1 .719-2.212l8.021-5.828a1.978 1.978 0 0 1 2.326 0z"/><path d="M12 13a3 3 0 1 0 0-6a3 3 0 0 0 0 6z"/><path d="M6 20.703v-.703a4 4 0 0 1 4-4h4a4 4 0 0 1 4 4v.707"/></svg><div class="l">Jumlah Tenaga Pendidik</div><i class="g1" style="left:128px"></i><span class="dg" style="left:143.200px">2</span><i class="g1" style="left:167.800px"></i></div>
<div class="sc" id="c4"><svg viewBox="0 0 24 24"><path d="M3 12a9 9 0 1 0 18 0a9 9 0 1 0-18 0"/><path d="M9 10a3 3 0 1 0 6 0a3 3 0 1 0-6 0"/><path d="M6.168 18.849a4 4 0 0 1 3.832-2.849h4a4 4 0 0 1 3.834 2.855"/></svg><div class="l">Jumlah Tenaga Kependidikan</div><div class="n">57</div></div>
<!-- statistik card -->
<div class="cd" style="left:316px;top:392px;width:636px;height:375px;border-bottom-left-radius:0"></div>
<svg class="abs" style="left:341px;top:413px;z-index:1;fill:none;stroke:#0f172a;stroke-width:2;stroke-linecap:round;stroke-linejoin:round" width="20" height="20" viewBox="0 0 24 24"><path d="M10 3.200a9 9 0 1 0 10.800 10.800a1 1 0 0 0-1-1h-6.800a2 2 0 0 1-2-2v-7a.900.900 0 0 0-1-.800"/><path d="M15 3.500a9 9 0 0 1 5.500 5.500h-4.500a1 1 0 0 1-1-1v-4.500"/></svg>
<div class="ct" style="left:365px;top:409px;z-index:1;letter-spacing:.36px">Statistik Pegawai</div>
<svg class="abs" style="left:0;top:0;z-index:1" width="1920" height="945" viewBox="0 0 1920 945">
<path d="M634.5 585.0L634.50 453.50A131.5 131.5 0 1 1 621.68 454.13Z" fill="#5b86e5" stroke="#fff" stroke-width="2" stroke-linejoin="round"/>
<path d="M634.5 585.0L621.68 454.13A131.5 131.5 0 0 1 634.50 453.50Z" fill="#e83e5a" stroke="#fff" stroke-width="2" stroke-linejoin="round"/>
<rect x="545" y="729" width="38" height="10" fill="#5b86e5"/>
<rect x="624.500" y="729" width="38" height="10" fill="#e83e5a"/>
</svg>
<div class="lg" style="left:590px;top:726px;z-index:1">Aktif</div>
<div class="lg" style="left:670px;top:726px;z-index:1">Tidak Aktif</div>
<!-- tabs -->
<div class="tab" style="left:316px;width:102px;background:#fff;border-top-color:#fff;border-right:none;border-bottom-left-radius:4px;color:#1e293b"><span style="left:12.500px;letter-spacing:.45px">Status Aktif</span></div>
<div class="tab" style="left:417px;width:123px;background:#f6f8fb;color:#66758c"><span style="left:12px;letter-spacing:.2px">Peran Pegawai</span></div>
<div class="tab" style="left:539px;width:131px;background:#f6f8fb;color:#66758c;border-bottom-right-radius:4px"><span style="left:11.500px;letter-spacing:.3px">Hubungan Kerja</span></div>
<!-- informasi -->
<div class="cd" style="left:968px;top:392px;width:636px;height:94px;overflow:hidden">
<div class="abs" style="left:550px;top:-30px;width:114px;height:114px;border-radius:50%;background:#fdecd0"></div>
<svg class="abs" style="left:566px;top:-12px;transform:rotate(10.500deg);fill:none;stroke:#fff;stroke-width:2;stroke-linecap:round;stroke-linejoin:round" width="80" height="80" viewBox="0 0 24 24"><path d="M10 5a2 2 0 1 1 4 0a7 7 0 0 1 4 6v3a4 4 0 0 0 2 3h-16a4 4 0 0 0 2-3v-3a7 7 0 0 1 4-6"/><path d="M9 17v1a3 3 0 0 0 6 0v-1"/></svg>
<div class="ct" style="left:19.500px;top:16px;letter-spacing:.26px">Informasi Terbaru</div>
<div class="cs" style="left:20px;top:56.500px">Tidak ada informasi saat ini.</div>
</div>
<!-- berita -->
<div class="cd" style="left:968px;top:502px;width:636px;height:94px">
<div class="ct" style="left:20px;top:16px">Berita Terbaru</div>
<div class="cs" style="left:20px;top:56.500px;letter-spacing:.21px">Tidak ada berita saat ini.</div>
</div>
<svg class="abs" style="left:1554px;top:498px;z-index:2" width="40" height="38" viewBox="0 0 40 38"><path d="M1 5l4-4v4z" fill="#a86c00"/><path d="M5 1h29a3 3 0 0 1 3 3v28a3 3 0 0 1-3 3h-26a3 3 0 0 1-3-3z" fill="#f59f00"/><g transform="translate(12 8.800) scale(.75)" fill="none" stroke="#fff" stroke-width="2" stroke-linecap="round" stroke-linejoin="round"><path d="M12 17.750l-6.172 3.245l1.179-6.873l-5-4.867l6.900-1l3.086-6.253l3.086 6.253l6.900 1l-5 4.867l1.179 6.873z"/></g></svg>
<!-- info login -->
<div class="cd" style="left:968px;top:612px;width:636px;height:166px">
<div class="ct" style="left:19.500px;top:16px;letter-spacing:.45px">Info Login</div>
<div class="il" style="left:20px;top:57px">Tanggal:</div><div class="dash" style="left:148px;top:68px"></div>
<div class="il" style="left:20px;top:85px">Akun:</div><div class="dash" style="left:148px;top:96px"></div>
<div class="il" style="left:20px;top:113px">Lokasi:</div><div class="dash" style="left:148px;top:124px"></div>
<div class="il" style="left:325px;top:57px">Alamat IP:</div><div class="dash" style="left:453px;top:68px"></div>
<div class="il" style="left:325px;top:85px">Sistem Operasi:</div><div class="dash" style="left:453px;top:96px"></div>
<div class="il" style="left:325px;top:113px">Peramban:</div><div class="dash" style="left:453px;top:124px"></div>
</div>
<!-- footer -->
<div class="ft" style="left:316px;letter-spacing:.1px">Copyright © 2025 Yayasan Indra Education College. All rights reserved.</div>
<div class="ft" style="right:316px;letter-spacing:.3px">E-Staff v1.0.0</div>
</div>
</body>
</html>
